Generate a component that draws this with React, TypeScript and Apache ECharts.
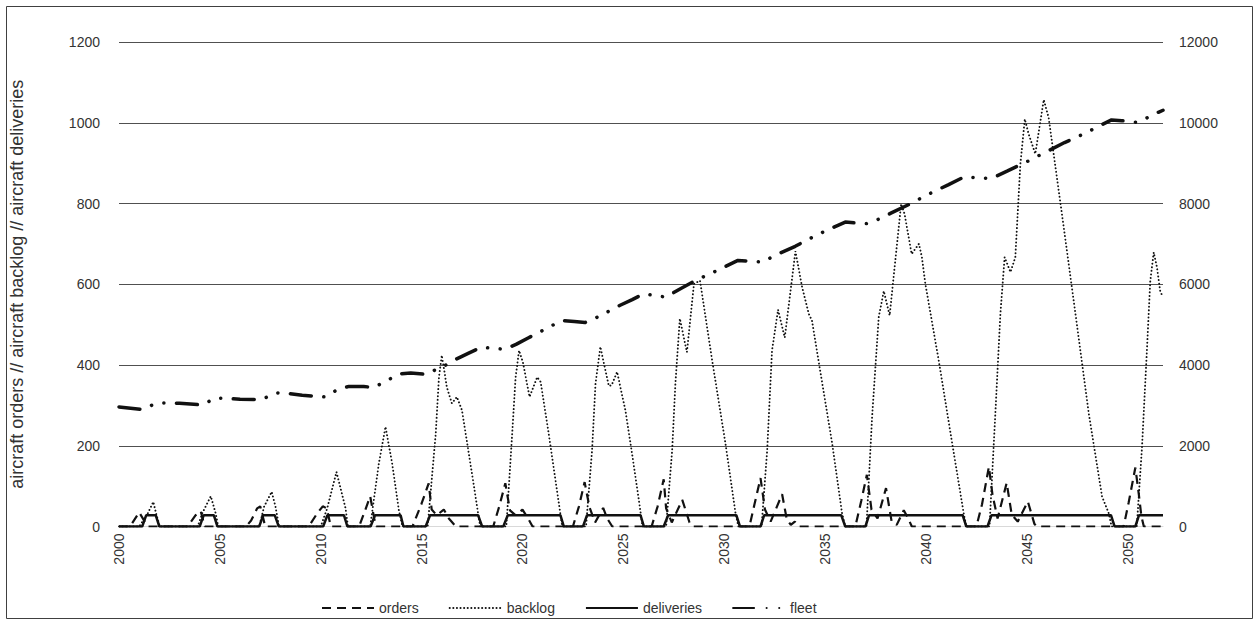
import React, { useEffect, useRef } from "react";
import * as echarts from "echarts";

const seriesNames = ["orders", "backlog", "deliveries", "fleet"];
const yTitle = "aircraft orders // aircraft backlog // aircraft deliveries";

// [year, aircraft orders]
const orders: [number, number][] = [
  [2000, 0], [2000.55, 0], [2001.0, 35], [2001.3, 10], [2001.45, 0],
  [2003.4, 0], [2003.8, 28], [2004.05, 38], [2004.25, 0],
  [2006.3, 0], [2006.55, 15], [2006.85, 45], [2007.0, 50], [2007.25, 0],
  [2009.4, 0], [2009.83, 33], [2010.1, 50], [2010.3, 45], [2010.5, 0],
  [2011.9, 0], [2012.2, 40], [2012.45, 75], [2012.65, 20], [2012.75, 0],
  [2014.55, 0], [2015.0, 57], [2015.35, 107], [2015.5, 42], [2015.75, 28], [2016.1, 42], [2016.35, 20], [2016.7, 0],
  [2018.55, 0], [2018.85, 50], [2019.15, 107], [2019.38, 40], [2019.65, 28], [2020.0, 42], [2020.3, 18], [2020.5, 0],
  [2022.5, 0], [2022.8, 50], [2023.08, 110], [2023.32, 48], [2023.6, 10], [2024.0, 46], [2024.2, 20], [2024.45, 0],
  [2026.4, 0], [2026.7, 50], [2027.0, 117], [2027.12, 45], [2027.4, 10], [2027.92, 66], [2028.28, 10], [2028.45, 0],
  [2031.25, 0], [2031.5, 55], [2031.8, 120], [2032.02, 42], [2032.3, 12], [2032.87, 80], [2033.1, 18], [2033.3, 4], [2033.5, 12], [2033.7, 0],
  [2036.5, 0], [2036.8, 65], [2037.07, 128], [2037.3, 42], [2037.6, 20], [2038.02, 95], [2038.3, 12], [2038.55, 4], [2038.9, 40], [2039.1, 22], [2039.3, 0],
  [2042.5, 0], [2042.78, 55], [2043.12, 148], [2043.3, 78], [2043.55, 20], [2044.0, 108], [2044.25, 30], [2044.55, 12], [2045.05, 62], [2045.38, 6], [2045.5, 0],
  [2049.8, 0], [2050.05, 60], [2050.38, 146], [2050.55, 80], [2050.68, 25], [2050.8, 0],
  [2051.75, 0],
];

// [year, aircraft backlog]
const backlog: [number, number][] = [
  [2000, 0], [2001.0, 0], [2001.4, 30], [2001.7, 61], [2001.85, 30], [2002.02, 0],
  [2003.9, 0], [2004.13, 33], [2004.55, 75], [2004.79, 33], [2004.92, 0],
  [2006.95, 0], [2007.19, 49], [2007.57, 86], [2007.76, 49], [2007.93, 0],
  [2010.0, 0], [2010.32, 45], [2010.78, 135], [2011.23, 45], [2011.35, 0],
  [2012.45, 0], [2012.88, 156], [2013.21, 247], [2013.54, 156], [2013.87, 41], [2014.05, 0],
  [2015.3, 0], [2015.7, 230], [2015.86, 370], [2016.0, 424], [2016.12, 387], [2016.25, 345], [2016.5, 305], [2016.75, 321], [2017.0, 288], [2017.26, 206], [2017.6, 98], [2017.9, 0],
  [2019.2, 0], [2019.49, 230], [2019.66, 370], [2019.83, 436], [2020.02, 407], [2020.35, 321], [2020.73, 370], [2020.9, 358], [2021.3, 230], [2021.97, 0],
  [2023.15, 0], [2023.45, 189], [2023.62, 354], [2023.86, 445], [2024.28, 348], [2024.42, 350], [2024.69, 383], [2025.1, 288], [2025.43, 181], [2025.77, 65], [2025.95, 0],
  [2027.12, 0], [2027.42, 189], [2027.58, 354], [2027.8, 515], [2028.15, 432], [2028.5, 601], [2028.8, 609], [2029.4, 412], [2030.06, 206], [2030.56, 33], [2030.7, 0],
  [2031.85, 0], [2032.13, 189], [2032.37, 436], [2032.67, 537], [2033.0, 468], [2033.53, 682], [2033.86, 593], [2034.19, 527], [2034.35, 510], [2034.7, 403], [2035.35, 206], [2035.84, 33], [2036.0, 0],
  [2037.05, 0], [2037.33, 271], [2037.66, 519], [2037.91, 583], [2038.2, 523], [2038.77, 799], [2038.94, 774], [2039.29, 675], [2039.65, 700], [2039.8, 667], [2039.97, 601], [2040.63, 412], [2041.3, 206], [2041.87, 33], [2042.0, 0],
  [2043.15, 0], [2043.44, 280], [2043.69, 527], [2043.9, 667], [2044.19, 630], [2044.43, 667], [2044.68, 898], [2044.9, 1009], [2045.09, 972], [2045.42, 923], [2045.84, 1057], [2046.08, 1013], [2046.74, 774], [2047.41, 527], [2048.07, 280], [2048.73, 74], [2049.06, 33], [2049.2, 0],
  [2050.45, 0], [2050.71, 197], [2050.96, 444], [2051.12, 609], [2051.29, 679], [2051.45, 642], [2051.62, 580], [2051.75, 570],
];

// [year, aircraft deliveries]
const deliveries: [number, number][] = [
  [2000, 0], [2001.15, 0], [2001.35, 28], [2001.82, 28], [2002.0, 0],
  [2004.0, 0], [2004.2, 28], [2004.7, 28], [2004.88, 0],
  [2006.95, 0], [2007.15, 28], [2007.72, 28], [2007.92, 0],
  [2010.12, 0], [2010.33, 28], [2011.15, 28], [2011.32, 0],
  [2012.47, 0], [2012.69, 28], [2013.96, 28], [2014.1, 0],
  [2015.2, 0], [2015.42, 28], [2017.8, 28], [2018.0, 0],
  [2019.05, 0], [2019.27, 28], [2021.88, 28], [2022.05, 0],
  [2023.0, 0], [2023.2, 28], [2025.85, 28], [2026.02, 0],
  [2027.0, 0], [2027.22, 28], [2030.6, 28], [2030.78, 0],
  [2031.8, 0], [2031.98, 28], [2035.8, 28], [2036.0, 0],
  [2037.0, 0], [2037.18, 28], [2041.82, 28], [2042.0, 0],
  [2043.05, 0], [2043.25, 28], [2049.17, 28], [2049.35, 0],
  [2050.38, 0], [2050.56, 28], [2051.75, 28],
];

// [year, fleet size] (right axis)
const fleet: [number, number][] = [
  [2000.0, 2960], [2001.15, 2900], [2001.7, 3020], [2002.2, 3060], [2003.0, 3050], [2004.15, 3010],
  [2004.75, 3180], [2005.45, 3170], [2006.0, 3150], [2007.05, 3140], [2007.8, 3310], [2008.47, 3290],
  [2009.08, 3250], [2010.2, 3210], [2010.87, 3400], [2011.4, 3470], [2012.13, 3470], [2012.62, 3440],
  [2013.23, 3600], [2013.9, 3780], [2014.46, 3800], [2015.2, 3770], [2016.13, 3980], [2016.73, 4150],
  [2017.36, 4300], [2017.95, 4440], [2019.12, 4390], [2019.68, 4510], [2020.28, 4670], [2020.86, 4820],
  [2021.94, 5100], [2022.57, 5080], [2023.1, 5050], [2023.78, 5200], [2024.84, 5480], [2025.44, 5620],
  [2026.0, 5760], [2026.63, 5720], [2027.1, 5680], [2027.83, 5890], [2028.35, 6030], [2028.95, 6180],
  [2029.56, 6320], [2030.68, 6590], [2031.24, 6570], [2031.92, 6550], [2032.49, 6710], [2033.52, 6940],
  [2034.12, 7100], [2034.72, 7250], [2035.33, 7390], [2036.0, 7540], [2036.5, 7520], [2037.1, 7500],
  [2037.65, 7610], [2038.26, 7760], [2039.38, 8030], [2039.89, 8170], [2040.5, 8320], [2041.1, 8460],
  [2041.9, 8660], [2042.5, 8640], [2043.25, 8620], [2044.02, 8800], [2045.06, 9050], [2046.87, 9510],
  [2047.9, 9740], [2048.5, 9900], [2049.2, 10070], [2049.71, 10050], [2050.45, 10010], [2050.83, 10090],
  [2051.43, 10240], [2051.75, 10310],
];

const FONT = "'Liberation Sans', Arial, sans-serif";
const INK = "#111111";
const TXT = "#333333";
const plain = (v: number) => String(v);

export default function App() {
  const ref = useRef<HTMLDivElement>(null);

  useEffect(() => {
    const chart = echarts.init(ref.current!, null, { renderer: "svg" });
    chart.setOption({
      animation: false,
      backgroundColor: "#ffffff",
      textStyle: { fontFamily: FONT },
      grid: { left: 119, right: 97, top: 42, bottom: 99.5 },
      graphic: [
        {
          type: "rect",
          shape: { x: 6.5, y: 6.5, width: 1246, height: 612 },
          style: { fill: "none", stroke: "#404040", lineWidth: 1 },
          silent: true,
        },
      ],
      legend: {
        left: 316,
        top: 596,
        itemWidth: 52,
        itemHeight: 12,
        itemGap: 30,
        itemStyle: { opacity: 0 },
        textStyle: { fontSize: 14, color: TXT, fontFamily: FONT },
        data: seriesNames,
      },
      xAxis: {
        type: "value",
        min: 2000,
        max: 2051.75,
        interval: 5,
        axisLine: { show: true, lineStyle: { color: "#d9d9d9", width: 1 } },
        axisTick: { show: false },
        splitLine: { show: false },
        axisLabel: {
          rotate: 90,
          fontSize: 14,
          color: TXT,
          margin: 7,
          showMaxLabel: false,
          formatter: plain,
        },
      },
      yAxis: [
        {
          type: "value",
          min: 0,
          max: 1200,
          interval: 200,
          name: yTitle,
          nameLocation: "middle",
          nameGap: 93,
          nameTextStyle: { fontSize: 18, color: TXT, fontFamily: FONT },
          axisLine: { show: false },
          axisTick: { show: false },
          axisLabel: { fontSize: 14, color: TXT, margin: 19, formatter: plain },
          splitLine: { show: true, lineStyle: { color: "#505050", width: 1 } },
        },
        {
          type: "value",
          min: 0,
          max: 12000,
          interval: 2000,
          position: "right",
          axisLine: { show: false },
          axisTick: { show: false },
          axisLabel: { fontSize: 14, color: TXT, margin: 16, formatter: plain },
          splitLine: { show: false },
        },
      ],
      series: [
        {
          name: "orders",
          type: "line",
          data: orders,
          yAxisIndex: 0,
          symbol: "none",
          lineStyle: { color: INK, width: 2.2, type: [9, 6] },
          itemStyle: { color: INK },
          z: 2,
        },
        {
          name: "backlog",
          type: "line",
          data: backlog,
          yAxisIndex: 0,
          symbol: "none",
          lineStyle: { color: INK, width: 1.9, type: [0.1, 3.5], cap: "round" },
          itemStyle: { color: INK },
          z: 3,
        },
        {
          name: "deliveries",
          type: "line",
          data: deliveries,
          yAxisIndex: 0,
          symbol: "none",
          lineStyle: { color: INK, width: 2.5, type: "solid" },
          itemStyle: { color: INK },
          z: 4,
        },
        {
          name: "fleet",
          type: "line",
          data: fleet,
          yAxisIndex: 1,
          symbol: "none",
          lineStyle: { color: INK, width: 3.5, type: [21, 12.5, 0.1, 12.5, 0.1, 12.5], cap: "round" },
          itemStyle: { color: INK },
          z: 5,
        },
      ],
    });
    return () => chart.dispose();
  }, []);

  return (
    <div
      ref={ref}
      style={{ position: "absolute", left: 0, top: 0, width: 1260, height: 626, background: "#fff" }}
    />
  );
}
